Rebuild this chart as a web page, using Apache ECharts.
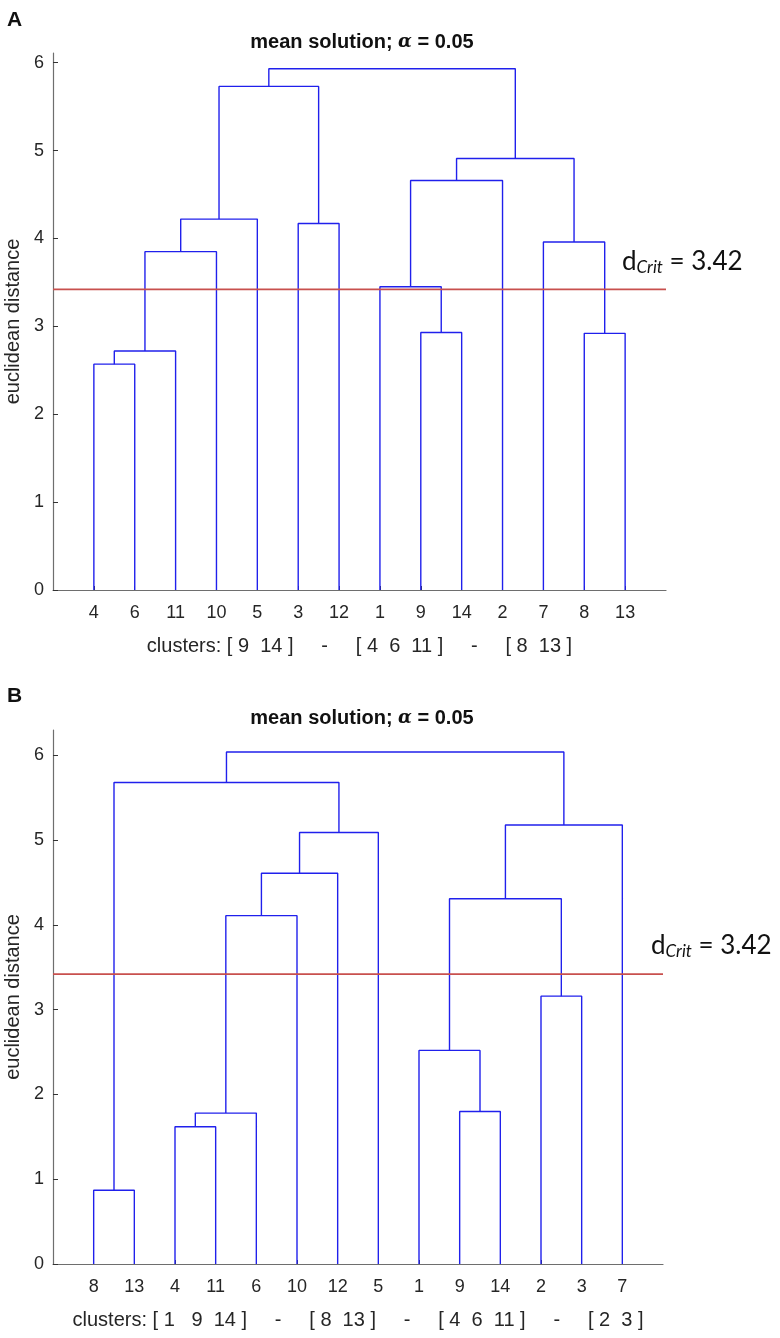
<!DOCTYPE html>
<html>
<head>
<meta charset="utf-8">
<script src="https://cdn.jsdelivr.net/npm/echarts@6/dist/echarts.min.js"></script>
<style>
  html, body { margin: 0; padding: 0; background: #fff; }
  #chart { width: 780px; height: 1338px; }
</style>
</head>
<body>
<div id="chart"></div>
<script>
// leaf order along the x axis, left to right
var leavesA = ['4', '6', '11', '10', '5', '3', '12', '1', '9', '14', '2', '7', '8', '13'];
var leavesB = ['8', '13', '4', '11', '6', '10', '12', '5', '1', '9', '14', '2', '3', '7'];

// linkage rows: [child, child, height]; leaf = its label, cluster k = 14 + k
var linksA = [
    [4, 6, 2.57],
    [15, 11, 2.72],
    [8, 13, 2.92],
    [9, 14, 2.93],
    [1, 18, 3.45],
    [16, 10, 3.85],
    [7, 17, 3.96],
    [3, 12, 4.17],
    [20, 5, 4.22],
    [19, 2, 4.66],
    [24, 21, 4.91],
    [23, 22, 5.73],
    [26, 25, 5.93]
];
var linksB = [
    [8, 13, 0.87],
    [4, 11, 1.62],
    [16, 6, 1.78],
    [9, 14, 1.80],
    [1, 18, 2.52],
    [2, 3, 3.16],
    [17, 10, 4.11],
    [19, 20, 4.31],
    [21, 12, 4.61],
    [23, 5, 5.09],
    [22, 7, 5.18],
    [15, 24, 5.68],
    [26, 25, 6.04]
];

var yTicks = [0, 1, 2, 3, 4, 5, 6];
var dCrit = 3.42;
var titleText = '{b|mean solution; }{a|α}{b| = 0.05}';
var clustersA = 'clusters: [ 9  14 ]     -     [ 4  6  11 ]     -     [ 8  13 ]';
var clustersB = 'clusters: [ 1   9  14 ]     -     [ 8  13 ]     -     [ 4  6  11 ]     -     [ 2  3 ]';

var FONT = 'Liberation Sans';
var TXT = '#262626';
var AX = '#6e6e6e';

function dendro(leaves, links, idx, labelOffset) {
    var n = leaves.length;
    var pos = {}, hgt = {};
    leaves.forEach(function (lab, i) {
        pos[+lab] = i + 1;
        hgt[+lab] = 0;
    });
    var out = [];
    links.forEach(function (l, k) {
        var a = l[0], b = l[1], h = l[2];
        out.push({
            type: 'line',
            xAxisIndex: idx,
            yAxisIndex: idx,
            data: [[pos[a], hgt[a]], [pos[a], h], [pos[b], h], [pos[b], hgt[b]]],
            symbol: 'none',
            silent: true,
            lineStyle: { color: '#2020ec', width: 1.4 }
        });
        pos[n + 1 + k] = (pos[a] + pos[b]) / 2;
        hgt[n + 1 + k] = h;
    });
    // critical distance
    out.push({
        type: 'line',
        xAxisIndex: idx,
        yAxisIndex: idx,
        data: [[0, dCrit], [n + 1, dCrit]],
        symbol: 'none',
        silent: true,
        lineStyle: { color: '#c8504e', width: 1.6 },
        endLabel: {
            show: true,
            offset: labelOffset,
            formatter: function () {
                return '{d|d}{s|Crit}{d| = ' + dCrit.toFixed(2) + '}';
            },
            rich: {
                d: { fontFamily: 'Lato', fontSize: 26, color: '#111' },
                s: { fontFamily: 'Lato', fontSize: 17, fontStyle: 'italic', color: '#111', padding: [12, 0, 0, 0] }
            }
        }
    });
    return out;
}

function xAxisFor(leaves, name, idx) {
    var ticks = leaves.map(function (l, i) { return i + 1; });
    return {
        gridIndex: idx,
        type: 'value',
        min: 0,
        max: leaves.length + 1,
        splitLine: { show: false },
        axisLine: { show: true, lineStyle: { color: AX, width: 1.2 } },
        axisTick: { show: true, inside: true, length: 4, customValues: ticks, lineStyle: { color: '#333' } },
        axisLabel: {
            customValues: ticks,
            formatter: function (v) { return leaves[v - 1]; },
            fontFamily: FONT, fontSize: 18, color: TXT, margin: 14
        },
        name: name,
        nameLocation: 'middle',
        nameGap: 46,
        nameTextStyle: { fontFamily: FONT, fontSize: 20, color: TXT }
    };
}

function yAxisFor(max, idx) {
    return {
        gridIndex: idx,
        type: 'value',
        min: 0,
        max: max,
        splitLine: { show: false },
        axisLine: { show: true, lineStyle: { color: AX, width: 1.2 } },
        axisTick: { show: true, inside: true, length: 5, customValues: yTicks, lineStyle: { color: '#333' } },
        axisLabel: { customValues: yTicks, fontFamily: FONT, fontSize: 18, color: TXT, margin: 9 },
        name: 'euclidean distance',
        nameLocation: 'middle',
        nameGap: 26,
        nameTextStyle: { fontFamily: FONT, fontSize: 20, color: TXT }
    };
}

var titleRich = {
    b: { fontFamily: FONT, fontSize: 20, fontWeight: 'bold', color: '#111' },
    a: { fontFamily: 'DejaVu Serif', fontSize: 18, fontStyle: 'italic', color: '#111' }
};

var chart = echarts.init(document.getElementById('chart'));
chart.setOption({
    animation: false,
    backgroundColor: '#fff',
    title: [
        { text: 'A', left: 2, top: 5, textStyle: { fontFamily: FONT, fontSize: 21, fontWeight: 'bold', color: '#111' } },
        { text: titleText, left: 357, top: 27, textAlign: 'center', textStyle: { rich: titleRich } },
        { text: 'B', left: 2, top: 681, textStyle: { fontFamily: FONT, fontSize: 21, fontWeight: 'bold', color: '#111' } },
        { text: titleText, left: 357, top: 703, textAlign: 'center', textStyle: { rich: titleRich } }
    ],
    grid: [
        { left: 53, top: 53, width: 613, height: 537, outerBoundsMode: 'none' },
        { left: 53, top: 730, width: 610, height: 534, outerBoundsMode: 'none' }
    ],
    xAxis: [xAxisFor(leavesA, clustersA, 0), xAxisFor(leavesB, clustersB, 1)],
    yAxis: [yAxisFor(6.11, 0), yAxisFor(6.3, 1)],
    series: dendro(leavesA, linksA, 0, [-52, -28]).concat(dendro(leavesB, linksB, 1, [-20, -29]))
});
</script>
</body>
</html>
